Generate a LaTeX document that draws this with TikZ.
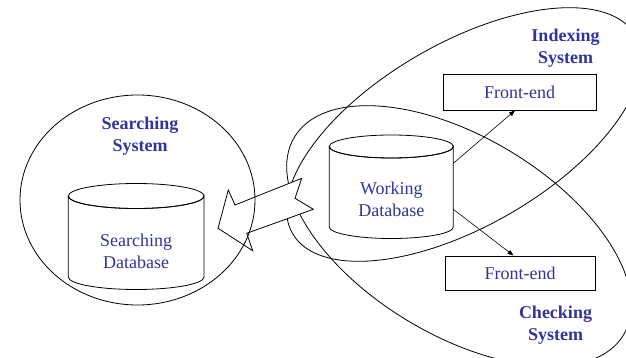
\documentclass[tikz,border=0pt]{standalone}
\usepackage{fontspec}
\setmainfont{Liberation Serif}
\usetikzlibrary{arrows.meta}
\definecolor{lblue}{RGB}{51,51,153}
\tikzset{
  sysline/.style={draw=black, line width=0.8pt},
  lbl/.style={text=lblue, align=center, inner sep=0pt, font=\fontsize{18}{22}\selectfont},
  syslbl/.style={text=lblue, align=center, inner sep=0pt, font=\fontsize{18}{22}\selectfont\bfseries},
  febox/.style={draw=black, line width=0.9pt, fill=white, text=lblue, inner sep=0pt, font=\fontsize{18}{22}\selectfont},
  conn/.style={draw=black, line width=0.6pt, -{Triangle[length=6pt,width=4.5pt]}},
  blockarrow/.style={draw=black, line width=0.8pt, fill=white, line join=miter}
}
\begin{document}
\begin{tikzpicture}[x=1pt,y=-1pt]
\clip (0,0) rectangle (626,358);
\fill[white] (0,0) rectangle (626,358);
% Indexing and Checking system ellipses
\draw[sysline, rotate around={30:(464,134.5)}] (464,134.5) ellipse [x radius=198, y radius=91.5];
\draw[sysline, rotate around={-31:(459,236)}] (459,236) ellipse [x radius=192, y radius=99];
% block arrow
\draw[blockarrow] (218,228.3) -- (228.3,190) -- (235,205) -- (301.7,178.3) -- (295,198.3) -- (313.3,209.3) -- (246.7,233.3) -- (252.7,250.7) -- cycle;
% Searching system circle
\draw[sysline] (137.5,200) ellipse [x radius=117.5, y radius=105];
% Searching database cylinder
\draw[sysline, fill=white] (68.3,196) -- (68.3,277) arc[start angle=180, end angle=0, x radius=67.85, y radius=12.5] -- (204,196) arc[start angle=0, end angle=180, x radius=67.85, y radius=12.5] -- cycle;
\draw[sysline] (136.15,196) ellipse [x radius=67.85, y radius=12.5];
\node[lbl] (sdb) at (136.15,251) {Searching\\Database};
% Working database cylinder
\draw[sysline, fill=white] (329.3,146.5) -- (329.3,227) arc[start angle=180, end angle=0, x radius=62, y radius=11.5] -- (453.3,146.5) arc[start angle=0, end angle=180, x radius=62, y radius=11.5] -- cycle;
\draw[sysline] (391.3,146.5) ellipse [x radius=62, y radius=11.5];
\node[lbl] (wdb) at (391.3,199.5) {Working\\Database};
% labels
\node[syslbl] (ss) at (140,136) {Searching\\System};
\node[syslbl] (is) at (565.5,48) {Indexing\\System};
\node[syslbl] (cs) at (555.5,325.5) {Checking\\System};
% front-ends
\node[febox, minimum width=153pt, minimum height=36pt] (fe1) at (519.5,92) {Front-end};
\node[febox, minimum width=150pt, minimum height=34pt] (fe2) at (520,273) {Front-end};
% connectors
\coordinate (wa) at (453.3,163.3);
\coordinate (wb) at (453.3,209.3);
\draw[conn] (wa) -- ([xshift=-4.5pt]fe1.south);
\draw[conn] (wb) -- ([xshift=-6.5pt]fe2.north);
\end{tikzpicture}
\end{document}
